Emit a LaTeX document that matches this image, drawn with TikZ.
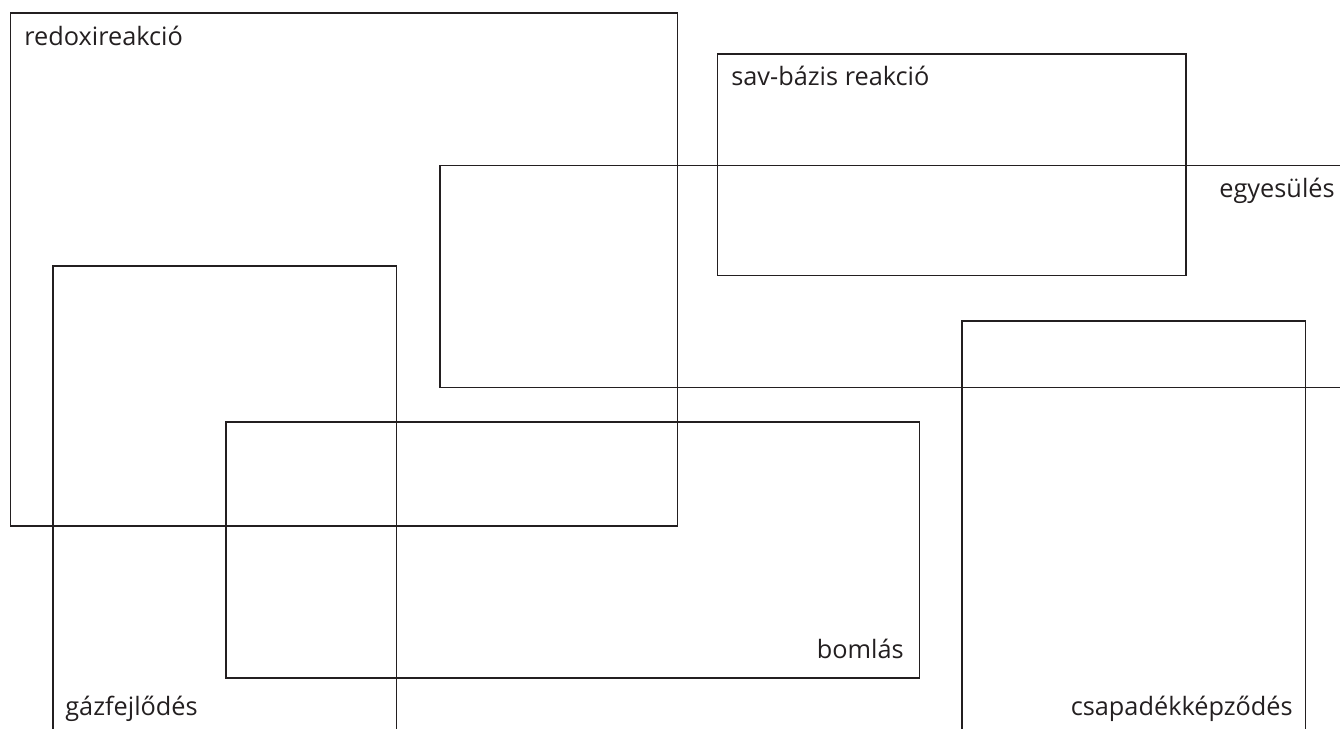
\documentclass[tikz,border=0pt]{standalone}
\usepackage{fontspec}
\setmainfont{Open Sans}
\usepackage{tikz}
\definecolor{boxline}{HTML}{231f20}

\begin{document}
\begin{tikzpicture}[
    x=0.02cm, y=-0.02cm,
    box/.style={draw=boxline, line width=0.7pt},
    label/.style={inner sep=0pt, text=boxline, font=\fontsize{14.4}{17}\selectfont}
]
\useasboundingbox (0,0) rectangle (1340,728);
\clip (0,0) rectangle (1340,728);

% Boxes
\draw[box] (10.5,13) rectangle (677.5,526);
\draw[box] (717.5,54) rectangle (1186,275.5);
\draw[box] (440,165.5) rectangle (1380,387.5);
\draw[box] (53,266) rectangle (396.5,780);
\draw[box] (226,422) rectangle (919.5,678);
\draw[box] (962,321) rectangle (1305.5,780);

% Labels
\node[label, anchor=base west] (redox) at (24,45) {redoxireakció};
\node[label, anchor=base west] (savbazis) at (731,85) {sav-bázis reakció};
\node[label, anchor=base east] (egyesules) at (1335,197) {egyesülés};
\node[label, anchor=base east] (bomlas) at (904,658) {bomlás};
\node[label, anchor=base west] (gazfejl) at (65,715) {gázfejlődés};
\node[label, anchor=base east] (csapadek) at (1293,715) {csapadékképződés};

\end{tikzpicture}
\end{document}
